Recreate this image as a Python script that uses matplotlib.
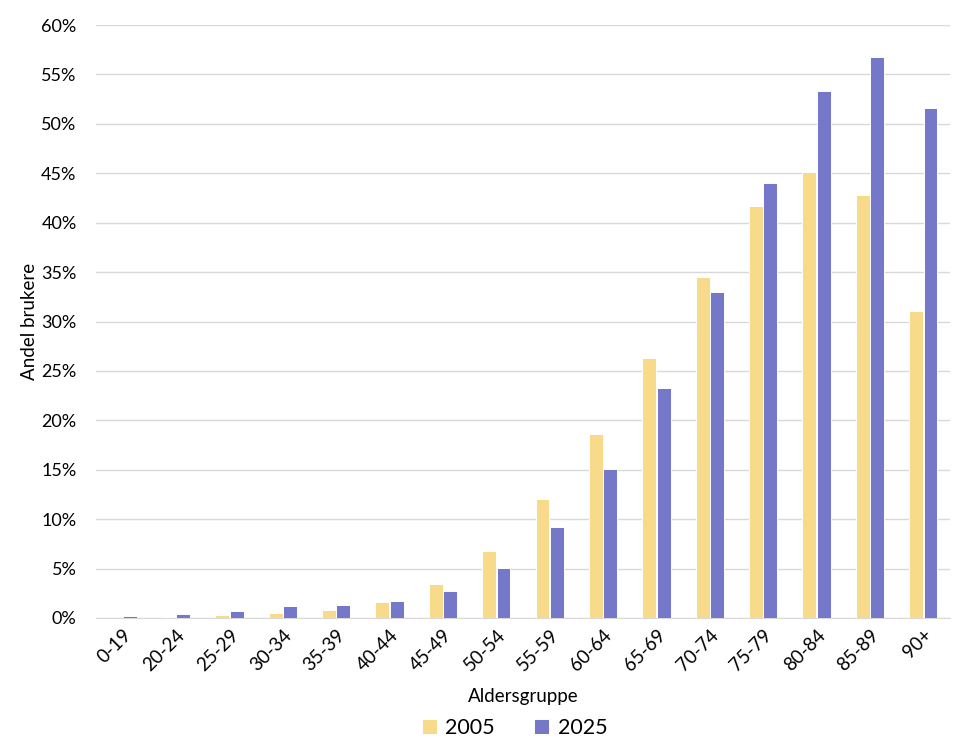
import numpy as np
import matplotlib.pyplot as plt
from matplotlib.ticker import PercentFormatter

# ----------------------------------------------------
# Data
# ----------------------------------------------------

age_groups = ["0-19", "20-24", "25-29", "30-34", "35-39", "40-44", "45-49",
              "50-54", "55-59", "60-64", "65-69", "70-74", "75-79", "80-84",
              "85-89", "90+"]

share_2005 = [0.02, 0.1, 0.3, 0.5, 0.8, 1.6, 3.4, 6.8, 12.0, 18.6, 26.3,
              34.5, 41.7, 45.1, 42.8, 31.1]

share_2025 = [0.2, 0.4, 0.75, 1.2, 1.35, 1.75, 2.7, 5.1, 9.2, 15.1, 23.3,
              33.0, 44.0, 53.3, 56.8, 51.6]

plt.rcParams["font.family"] = ["Lato", "DejaVu Sans"]

# ----------------------------------------------------
# Plot
# ----------------------------------------------------

fig = plt.figure(figsize=(9.7, 7.44), dpi=100)
ax = fig.add_axes([96 / 970, 1 - 618 / 744, 854 / 970, 593 / 744])

x = np.arange(len(age_groups))
w = 0.26

ax.bar(x - 0.135, share_2005, width=w, color="#F8DA8B",
       edgecolor="white", linewidth=0.7, label="2005", zorder=3)
ax.bar(x + 0.135, share_2025, width=w, color="#7577C9",
       edgecolor="white", linewidth=0.7, label="2025", zorder=3)

ax.set_xlim(-0.5, len(age_groups) - 0.5)
ax.set_ylim(0, 60)
ax.set_yticks(np.arange(0, 61, 5))
ax.yaxis.set_major_formatter(PercentFormatter(decimals=0))

ax.set_xticks(x)
ax.set_xticklabels(age_groups, rotation=45, ha="right",
                   rotation_mode="anchor", fontsize=13.5)
ax.tick_params(axis="y", labelsize=13, length=0, pad=14)
ax.tick_params(axis="x", length=0, pad=6)

ax.grid(axis="y", color="#D9D9D9", linewidth=1, zorder=0)
for side in ["top", "right", "left"]:
    ax.spines[side].set_visible(False)
ax.spines["bottom"].set_color("#D9D9D9")

ax.set_xlabel("Aldersgruppe", fontsize=13.5, labelpad=10)
ax.set_ylabel("Andel brukere", fontsize=13.5)
ax.yaxis.set_label_coords(-0.068, 0.5)

ax.legend(loc="center", bbox_to_anchor=(0.49, -0.186), ncol=2,
          frameon=False, fontsize=15.5, handlelength=0.7, handleheight=0.7,
          columnspacing=1.8, handletextpad=0.4)

plt.savefig("out.png", dpi=100)
plt.close()
